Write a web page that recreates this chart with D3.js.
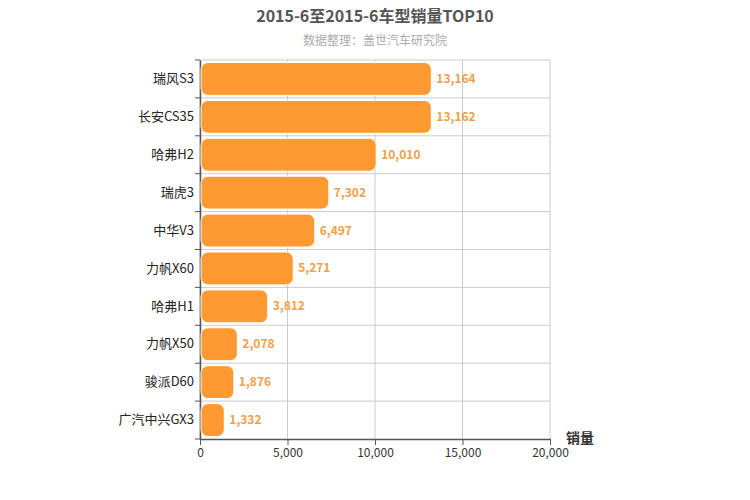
<!DOCTYPE html><html><head><meta charset="utf-8"><script src="https://cdn.jsdelivr.net/npm/d3@7"></script>
<style>body{margin:0;background:#fff}text{font-family:"Noto Sans CJK SC",sans-serif}</style></head><body><svg id="c" width="750" height="500"></svg><script>
const categories=["瑞风S3","长安CS35","哈弗H2","瑞虎3","中华V3","力帆X60","哈弗H1","力帆X50","骏派D60","广汽中兴GX3"];
const values=[13164,13162,10010,7302,6497,5271,3812,2078,1876,1332];
const xTicks=[0,5000,10000,15000,20000];
const svg=d3.select("#c");
const L=200,R=550,T=60,B=439;
const x=d3.scaleLinear().domain([0,20000]).range([L,R]);
const y=d3.scaleBand().domain(categories).range([T,B]);
const fmt=d3.format(",");
svg.append("text").attr("x",375).attr("y",22).attr("text-anchor","middle").attr("font-size",16).attr("font-weight","bold").attr("fill","#555").text("2015-6至2015-6车型销量TOP10");
svg.append("text").attr("x",375).attr("y",45).attr("text-anchor","middle").attr("font-size",12).attr("fill","#aaa").text("数据整理：盖世汽车研究院");
const g=svg.append("g");
xTicks.forEach(t=>g.append("line").attr("x1",x(t)).attr("x2",x(t)).attr("y1",T).attr("y2",B).attr("stroke","#ccc"));
categories.forEach(c=>g.append("line").attr("x1",L).attr("x2",R).attr("y1",y(c)).attr("y2",y(c)).attr("stroke","#ccc"));
const ax=svg.append("g").attr("transform",`translate(0,${B})`).call(d3.axisBottom(x).tickValues(xTicks).tickFormat(fmt).tickSizeOuter(0));
ax.selectAll("text").attr("font-size",12).attr("fill","#333");
ax.select(".domain").attr("stroke","#555").attr("stroke-width",1.5);ax.selectAll(".tick line").attr("stroke","#555");
const ay=svg.append("g").attr("transform",`translate(${L},0)`).call(d3.axisLeft(y).tickSize(0).tickPadding(6));
ay.selectAll("text").attr("font-size",13).attr("fill","#222");
ay.select(".domain").attr("stroke","#555").attr("stroke-width",1.5);
categories.concat([null]).forEach((c,i)=>{const yy=c?y(c):B;svg.append("line").attr("x1",L-5).attr("x2",L).attr("y1",yy).attr("y2",yy).attr("stroke","#555");});
svg.selectAll(".bar").data(values).join("rect").attr("x",L+1).attr("y",(d,i)=>y(categories[i])+2.5).attr("width",d=>x(d)-L).attr("height",y.bandwidth()-5).attr("rx",7).attr("fill","#ff9a33").attr("stroke","#fff");
svg.selectAll(".lab").data(values).join("text").attr("x",d=>x(d)+6).attr("y",(d,i)=>y(categories[i])+y.bandwidth()/2+4).attr("font-size",12).attr("font-weight","bold").attr("fill","#f0a04b").text(d=>fmt(d));
svg.append("text").attr("x",580).attr("y",443).attr("text-anchor","middle").attr("font-size",14).attr("font-weight","bold").attr("fill","#333").text("销量");
</script></body></html>
